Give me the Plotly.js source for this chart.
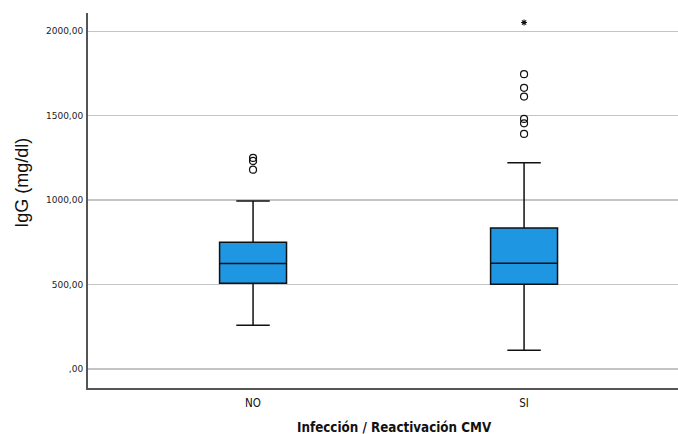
<!DOCTYPE html>
<html>
<head>
<meta charset="utf-8">
<script src="https://cdn.plot.ly/plotly-3.0.1.min.js"></script>
<style>
  html, body { margin: 0; padding: 0; background: #fff; }
  #chart { width: 678px; height: 434px; }
</style>
</head>
<body>
<div id="chart"></div>
<script>
// Groups on the x axis
const groups = ["NO", "SI"];

// Box summary statistics per group (IgG, mg/dl)
const lowerWhisker = [259, 111];
const q1Values = [508, 502];
const medianValues = [624, 626];
const q3Values = [750, 835];
const upperWhisker = [995, 1222];

// Outliers (circles) and extreme values (asterisks)
const noOutliers = [1250, 1232, 1180];
const siOutliers = [1746, 1665, 1613, 1481, 1455, 1392];
const siExtremes = [2052];

// Y axis ticks, written with a decimal comma
const yTickVals = [0, 500, 1000, 1500, 2000];
const yTickText = [",00", "500,00", "1000,00", "1500,00", "2000,00"];

// Axis titles
const xTitle = "Infección / Reactivación CMV";
const yTitle = "IgG (mg/dl)";

const boxColor = "#1e96e2";

const traces = [
  {
    type: "box",
    x: groups,
    q1: q1Values,
    median: medianValues,
    q3: q3Values,
    lowerfence: lowerWhisker,
    upperfence: upperWhisker,
    width: 0.247,
    whiskerwidth: 0.5,
    fillcolor: boxColor,
    line: { color: "#111", width: 1.5 },
    hoverinfo: "skip",
    showlegend: false
  },
  {
    type: "scatter",
    mode: "markers",
    x: noOutliers.map(() => groups[0]),
    y: noOutliers,
    marker: { symbol: "circle-open", size: 7, color: "#111", line: { width: 1.2 } },
    showlegend: false
  },
  {
    type: "scatter",
    mode: "markers",
    x: siOutliers.map(() => groups[1]),
    y: siOutliers,
    marker: { symbol: "circle-open", size: 7, color: "#111", line: { width: 1.2 } },
    showlegend: false
  },
  {
    type: "scatter",
    mode: "markers",
    x: siExtremes.map(() => groups[1]),
    y: siExtremes,
    marker: { symbol: "asterisk-open", size: 5, color: "#111", line: { width: 1.1, color: "#111" } },
    showlegend: false
  }
];

const layout = {
  width: 678,
  height: 434,
  margin: { l: 88, r: 0, t: 13, b: 46 },
  paper_bgcolor: "#fff",
  plot_bgcolor: "#fff",
  showlegend: false,
  xaxis: {
    type: "category",
    range: [-0.609, 1.568],
    showgrid: false,
    zeroline: false,
    showline: true,
    linecolor: "#555",
    linewidth: 2,
    ticks: "outside",
    ticklen: 3,
    tickcolor: "rgba(0,0,0,0)",
    tickfont: { family: "DejaVu Sans Condensed", size: 11.5, color: "#111" },
    fixedrange: true
  },
  yaxis: {
    range: [-112.5, 2108],
    tickvals: yTickVals,
    ticktext: yTickText,
    showgrid: true,
    gridcolor: "#c4c4c4",
    gridwidth: 1.3,
    zeroline: false,
    showline: true,
    linecolor: "#555",
    linewidth: 2,
    ticks: "outside",
    ticklen: 1,
    tickcolor: "rgba(0,0,0,0)",
    tickfont: { family: "DejaVu Sans", size: 9, color: "#222" },
    fixedrange: true
  },
  annotations: [
    {
      text: xTitle,
      xref: "paper", yref: "paper",
      x: 0.52, y: -0.104,
      xanchor: "center", yanchor: "middle",
      showarrow: false,
      font: { family: "DejaVu Sans Condensed", size: 13.3, color: "#111", weight: "bold" }
    },
    {
      text: yTitle,
      xref: "paper", yref: "paper",
      x: -0.112, y: 0.547,
      xanchor: "center", yanchor: "middle",
      textangle: -90,
      showarrow: false,
      font: { family: "Liberation Sans", size: 18, color: "#111" }
    }
  ]
};

Plotly.newPlot("chart", traces, layout, { staticPlot: true, displayModeBar: false });
</script>
</body>
</html>
